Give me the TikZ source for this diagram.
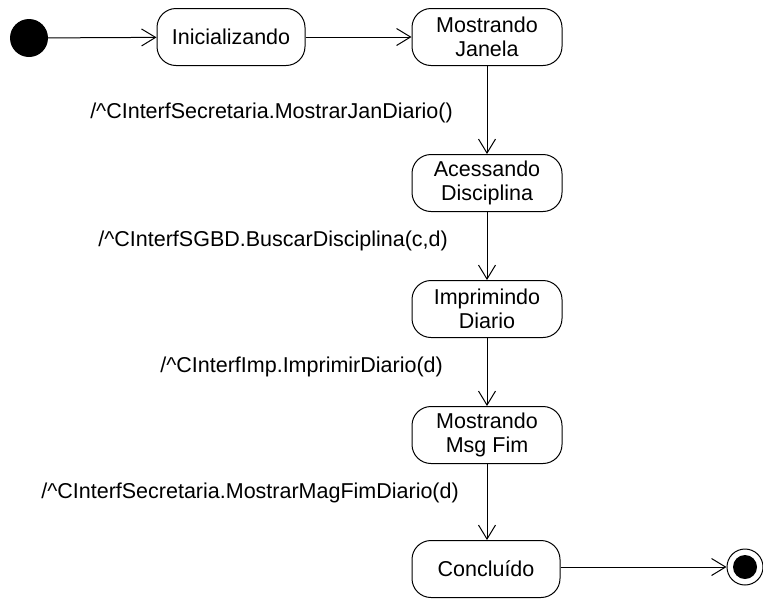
\documentclass[tikz,border=0pt]{standalone}
\usepackage{fontspec}
\setmainfont{Liberation Sans}
\usetikzlibrary{arrows.meta}
\begin{document}
\begin{tikzpicture}[x=1pt,y=-1pt,
  state/.style={draw,line width=1pt,rounded corners=19pt,minimum width=150pt,minimum height=57pt,align=center,inner sep=2pt,font=\fontsize{21.5}{23.5}\selectfont},
  lbl/.style={font=\fontsize{21.5}{23.5}\selectfont,inner sep=0pt},
  trans/.style={line width=1pt,-{Straight Barb[length=14pt,width=17pt,line width=1pt]}}]
\useasboundingbox (0,0) rectangle (763,598);
\node[circle,fill=black,minimum size=38pt,inner sep=0pt] (start) at (29,38) {};
\node[state,minimum width=148pt] (ini) at (231,37) {Inicializando};
\node[state] (jan) at (487,37) {Mostrando\\Janela};
\node[state] (ace) at (487,183) {Acessando\\Disciplina};
\node[state] (imp) at (487,309) {Imprimindo\\Diario};
\node[state] (msg) at (487,435) {Mostrando\\Msg Fim};
\node[state,minimum width=148pt] (con) at (486,569) {Concluído};
\node[circle,draw,line width=1pt,minimum size=36pt,inner sep=0pt] (fin) at (745,567) {};
\node[circle,fill=black,minimum size=24pt,inner sep=0pt] (finin) at (fin.center) {};
\draw[trans] (start) -- (ini);
\draw[trans] (ini) -- (jan);
\draw[trans] (jan) -- (ace);
\draw[trans] (ace) -- (imp);
\draw[trans] (imp) -- (msg);
\draw[trans] (msg.south) -- (con.north -| msg.south);
\draw[trans] (con.east |- fin) -- (fin.west);
\node[lbl,anchor=east] (l1) at (453,113) {/\textasciicircum CInterfSecretaria.MostrarJanDiario()};
\node[lbl,anchor=east] (l2) at (448,241) {/\textasciicircum CInterfSGBD.BuscarDisciplina(c,d)};
\node[lbl,anchor=east] (l3) at (443,367) {/\textasciicircum CInterfImp.ImprimirDiario(d)};
\node[lbl,anchor=east] (l4) at (459,493) {/\textasciicircum CInterfSecretaria.MostrarMagFimDiario(d)};
\end{tikzpicture}
\end{document}
